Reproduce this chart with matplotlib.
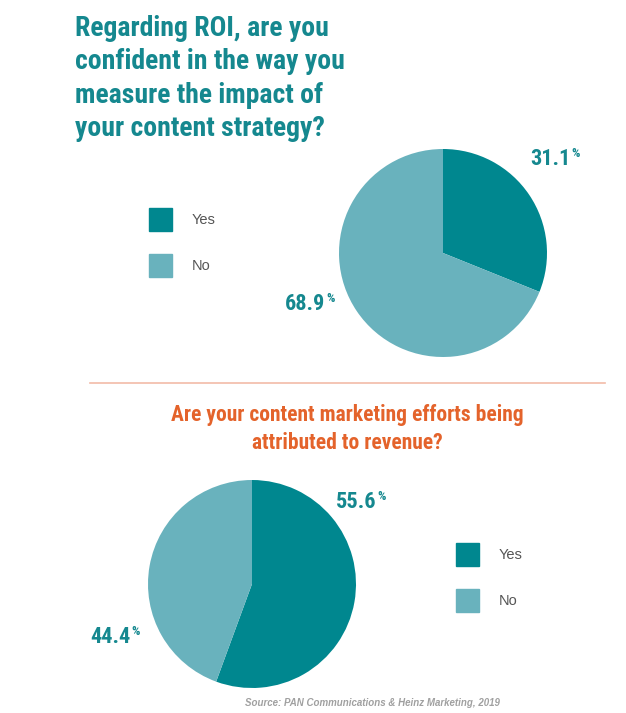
import matplotlib
matplotlib.use('Agg')
import matplotlib.pyplot as plt
from matplotlib.patches import Rectangle

# ── data ──
labels = ['Yes', 'No']
roi_values = [31.1, 68.9]
revenue_values = [55.6, 44.4]

title_top = "Regarding ROI, are you\nconfident in the way you\nmeasure the impact of\nyour content strategy?"
title_bottom = "Are your content marketing efforts being\nattributed to revenue?"
source = "Source: PAN Communications & Heinz Marketing, 2019"

DARK = '#00878F'
LIGHT = '#69B2BD'
TEAL_TXT = '#15888F'
ORANGE = '#E4632B'

COND = ['Roboto Condensed', 'Roboto', 'DejaVu Sans']
ARIAL = ['Liberation Sans', 'DejaVu Sans']

W, H = 626, 713
fig = plt.figure(figsize=(W / 100, H / 100), dpi=100)
fig.patch.set_facecolor('white')


def px(x, y):
    return x / W, 1 - y / H


def pie_axes(cx, cy, r, values):
    ax = fig.add_axes([(cx - r) / W, (H - cy - r) / H, 2 * r / W, 2 * r / H])
    ax.pie(values, colors=[DARK, LIGHT], startangle=90, counterclock=False,
           wedgeprops=dict(linewidth=0))
    ax.set_xlim(-1, 1)
    ax.set_ylim(-1, 1)
    ax.set_axis_off()
    return ax


def pct_label(x, y, value):
    # x = left edge, y = baseline (pixels from top)
    t = fig.text(*px(x, y), f"{value:.1f}", fontsize=16, fontweight='bold',
                 color=TEAL_TXT, family=COND, ha='left', va='baseline')
    fig.canvas.draw()
    bb = t.get_window_extent()
    fig.text((bb.x1 + 1) / W, (H - y + 18) / H, "%", fontsize=9.5, fontweight='bold',
             color=TEAL_TXT, family=COND, ha='left', va='top')


def legend(x, y):
    for i, (lab, col) in enumerate(zip(labels, [DARK, LIGHT])):
        yy = y + i * 46
        fig.patches.append(Rectangle(px(x, yy + 23), 23 / W, 23 / H,
                                     transform=fig.transFigure, color=col))
        fig.text(*px(x + 43, yy + 12), lab, fontsize=10.5, color='#555555',
                 family=ARIAL, ha='left', va='center')


# top section (anchored on the last line's baseline)
fig.text(*px(75, 136), title_top, fontsize=20, fontweight='bold', color=TEAL_TXT,
         family=COND, ha='left', va='baseline', linespacing=1.3)
pie_axes(443, 253, 104, roi_values)
legend(149, 208)
pct_label(530, 165, roi_values[0])
pct_label(285, 310, roi_values[1])

# separator
fig.add_artist(plt.Line2D([90 / W, 605 / W], [1 - 383 / H] * 2, color='#F2BBA8', lw=1.2))

# bottom section
fig.text(*px(347, 449), title_bottom, fontsize=15.5, fontweight='bold', color=ORANGE,
         family=COND, ha='center', va='baseline', linespacing=1.35,
         multialignment='center')
pie_axes(252, 584, 104, revenue_values)
legend(456, 543)
pct_label(336, 508, revenue_values[0])
pct_label(90, 643, revenue_values[1])

fig.text(*px(372, 703), source, fontsize=7, fontweight='bold', style='italic',
         color='#A0A0A0', family=ARIAL, ha='center', va='center')

fig.savefig('out.png', dpi=100, facecolor='white')
